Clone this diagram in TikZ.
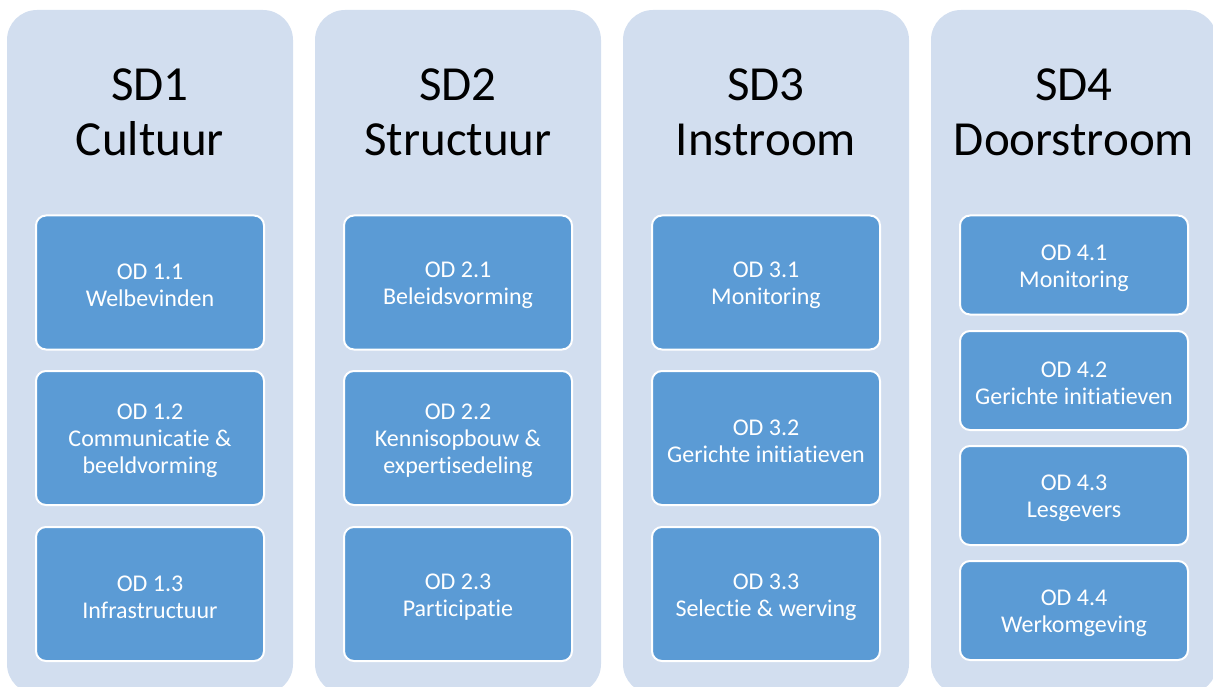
\documentclass[tikz,border=0pt]{standalone}
\usepackage{fontspec}
\setmainfont{Carlito}[Ligatures={NoCommon,NoContextual,NoRare},Contextuals={NoAlternate}]
\definecolor{outerfill}{RGB}{210,222,239}
\definecolor{innerfill}{RGB}{91,155,213}
\newcommand{\tiNoLig}{t\kern0pt i}
\begin{document}
\begin{tikzpicture}[x=1pt,y=-1pt,
  colbox/.style={fill=outerfill, draw=none, rounded corners=30pt, minimum width=286pt, minimum height=684pt, inner sep=0pt},
  coltitle/.style={font=\fontsize{49}{55}\selectfont, align=center, text=black, inner sep=0pt},
  odbox/.style={fill=innerfill, draw=white, line width=2pt, rounded corners=10pt, minimum width=228pt, inner sep=0pt},
  odtext/.style={align=center, text=white, font=\fontsize{24}{27}\selectfont, inner sep=0pt, yshift=-3pt},
  tallbox/.style={odbox, minimum height=134pt},
  shortbox/.style={odbox, minimum height=99pt}]
\useasboundingbox (0,0) rectangle (1213,687);
\clip (0,0) rectangle (1213,687);
% columns
\node[colbox] (c1) at (150,352) {};
\node[colbox] (c2) at (458,352) {};
\node[colbox] (c3) at (766,352) {};
\node[colbox] (c4) at (1074,352) {};
% titles
\node[coltitle] (t1) at (150,112) {SD1\\Cultuur};
\node[coltitle] (t2) at (458,112) {SD2\\Structuur};
\node[coltitle] (t3) at (766,112) {SD3\\Instroom};
\node[coltitle] (t4) at (1074,112) {SD4\\Doorstroom};
% column 1
\node[tallbox] (o11) at (150,282.5) {};
\node[tallbox] (o12) at (150,438) {};
\node[tallbox] (o13) at (150,594) {};
\node[odtext] (l11) at (o11.center) {OD 1.1\\Welbevinden};
\node[odtext] (l12) at (o12.center) {OD 1.2\\Communica\tiNoLig e \&\\beeldvorming};
\node[odtext] (l13) at (o13.center) {OD 1.3\\Infrastructuur};
% column 2
\node[tallbox] (o21) at (458,282.5) {};
\node[tallbox] (o22) at (458,438) {};
\node[tallbox] (o23) at (458,594) {};
\node[odtext] (l21) at (o21.center) {OD 2.1\\Beleidsvorming};
\node[odtext] (l22) at (o22.center) {OD 2.2\\Kennisopbouw \&\\exper\tiNoLig sedeling};
\node[odtext] (l23) at (o23.center) {OD 2.3\\Par\tiNoLig cipa\tiNoLig e};
% column 3
\node[tallbox] (o31) at (766,282.5) {};
\node[tallbox] (o32) at (766,438) {};
\node[tallbox] (o33) at (766,594) {};
\node[odtext] (l31) at (o31.center) {OD 3.1\\Monitoring};
\node[odtext] (l32) at (o32.center) {OD 3.2\\Gerichte ini\tiNoLig a\tiNoLig even};
\node[odtext] (l33) at (o33.center) {OD 3.3\\Selec\tiNoLig e \& werving};
% column 4
\node[shortbox] (o41) at (1074,265) {};
\node[shortbox] (o42) at (1074,380.5) {};
\node[shortbox] (o43) at (1074,495.5) {};
\node[shortbox] (o44) at (1074,610.5) {};
\node[odtext] (l41) at (o41.center) {OD 4.1\\Monitoring};
\node[odtext] (l42) at (o42.center) {OD 4.2\\Gerichte ini\tiNoLig a\tiNoLig even};
\node[odtext] (l43) at (o43.center) {OD 4.3\\Lesgevers};
\node[odtext] (l44) at (o44.center) {OD 4.4\\Werkomgeving};
\end{tikzpicture}
\end{document}
